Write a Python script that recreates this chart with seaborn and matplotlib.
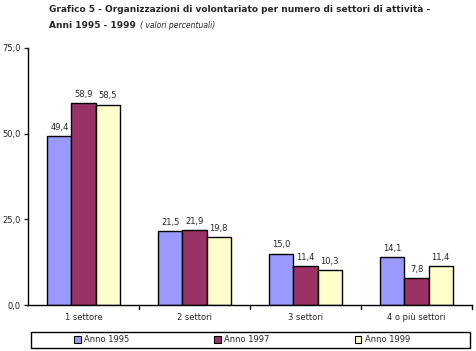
import matplotlib
matplotlib.use("Agg")
import matplotlib.pyplot as plt
import seaborn as sns
import pandas as pd
from matplotlib.patches import Patch, Rectangle

categories = ["1 settore", "2 settori", "3 settori", "4 o più settori"]
series_names = ["Anno 1995", "Anno 1997", "Anno 1999"]
v1995 = [49.4, 21.5, 15.0, 14.1]
v1997 = [58.9, 21.9, 11.4, 7.8]
v1999 = [58.5, 19.8, 10.3, 11.4]
colors = ["#9999FF", "#993366", "#FFFFCC"]
yticks = [0, 25, 50, 75]

rows = []
for name, vals in zip(series_names, [v1995, v1997, v1999]):
    for c, v in zip(categories, vals):
        rows.append({"cat": c, "serie": name, "val": v})
df = pd.DataFrame(rows)

sns.set_style("white")
plt.rcParams['font.family'] = ['DejaVu Sans']
fig = plt.figure(figsize=(4.76, 3.51), dpi=100)
ax = fig.add_axes([28/476, 1-305/351, 444/476, 257/351])
sns.barplot(data=df, x="cat", y="val", hue="serie", palette=colors,
            order=categories, hue_order=series_names, width=0.65,
            edgecolor="black", linewidth=1.0, ax=ax, legend=False, saturation=1)
for cont in ax.containers:
    ax.bar_label(cont, labels=[f"{v:.1f}".replace(".", ",") for v in cont.datavalues],
                 padding=3, fontsize=6)
ax.set_ylim(0, 75)
ax.set_xlim(-0.5, 3.5)
ax.set_yticks(yticks)
ax.set_yticklabels([f"{t:.1f}".replace(".", ",") for t in yticks], fontsize=6)
ax.set_xticks([0, 1, 2, 3])
ax.set_xticklabels(categories, fontsize=6)
ax.tick_params(axis="x", length=0, pad=6)
ax.tick_params(axis="y", length=3, width=1, direction="out", left=True, pad=2)
for b in [0.5, 1.5, 2.5, 3.5]:
    ax.plot([b, b], [0, -1.2], color="black", lw=1, clip_on=False, transform=ax.transData)
ax.set_xlabel("")
ax.set_ylabel("")
for s in ["top", "right"]:
    ax.spines[s].set_visible(False)
for s in ["left", "bottom"]:
    ax.spines[s].set_color("black")
    ax.spines[s].set_linewidth(1)

fig.text(49/476, 1-10/351, "Grafico 5 - Organizzazioni di volontariato per numero di settori di attività -",
         fontsize=6.5, fontweight="bold", va="center", ha="left")
t2 = fig.text(49/476, 1-25/351, "Anni 1995 - 1999", fontsize=6.5, fontweight="bold", va="center", ha="left")
fig.canvas.draw()
bb = t2.get_window_extent(renderer=fig.canvas.get_renderer())
fig.text((bb.x1 + 4) / 476, 1-25/351, "( valori percentuali)", fontsize=5.5, style="italic",
         va="center", ha="left")

fig.patches.append(Rectangle((31/476, 1-348/351), 439/476, 16/351, transform=fig.transFigure,
                             facecolor="white", edgecolor="black", linewidth=1, zorder=0))
handles = [Patch(facecolor=c, edgecolor="black", linewidth=0.8) for c in colors]
leg = fig.legend(handles, series_names, loc="center left",
                 bbox_to_anchor=(74/476, 1-340/351),
                 ncol=3, fontsize=6, frameon=False,
                 handlelength=0.8, handleheight=0.8, borderpad=0, borderaxespad=0,
                 handletextpad=0.4, columnspacing=10.2)
fig.savefig("out.png", dpi=100)
